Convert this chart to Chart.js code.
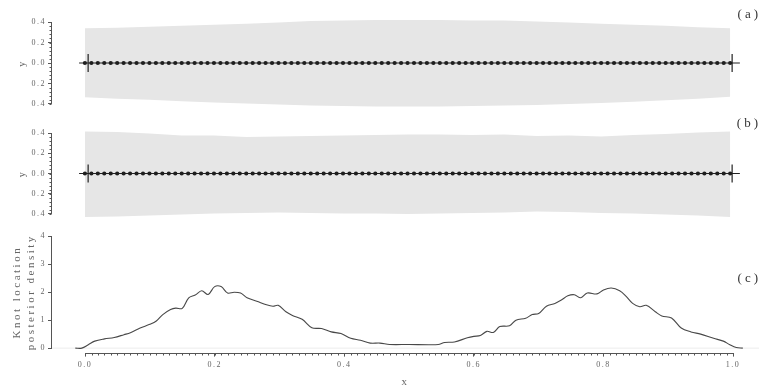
<!DOCTYPE html>
<html>
<head>
<meta charset="utf-8">
<script src="https://cdn.jsdelivr.net/npm/chart.js@4.4.1/dist/chart.umd.min.js"></script>
<style>
  html, body { margin: 0; padding: 0; background: #fff; }
  #wrap { position: relative; width: 760px; height: 392px; }
  canvas { position: absolute; left: 0; }
</style>
</head>
<body>
<div id="wrap">
  <canvas id="pa" width="760" height="120" style="top:0px"></canvas>
  <canvas id="pb" width="760" height="115" style="top:110px"></canvas>
  <canvas id="pc" width="760" height="167" style="top:225px"></canvas>
</div>
<script>
// ── data ──
const panelLabels = ['(a)', '(b)', '(c)'];

// band (credible interval) sampled along x
const bandX      = [0, 0.05, 0.1, 0.15, 0.2, 0.25, 0.3, 0.35, 0.4, 0.45, 0.5, 0.55, 0.6, 0.65, 0.7, 0.75, 0.8, 0.85, 0.9, 0.95, 1.0];
const bandAUpper = [0.34, 0.345, 0.355, 0.365, 0.375, 0.385, 0.395, 0.41, 0.415, 0.42, 0.42, 0.42, 0.415, 0.415, 0.405, 0.395, 0.385, 0.375, 0.365, 0.35, 0.34];
const bandALower = [-0.335, -0.35, -0.36, -0.375, -0.385, -0.395, -0.405, -0.415, -0.42, -0.425, -0.425, -0.425, -0.42, -0.415, -0.41, -0.40, -0.39, -0.38, -0.365, -0.35, -0.33];
const bandBUpper = [0.415, 0.41, 0.395, 0.375, 0.375, 0.36, 0.365, 0.37, 0.375, 0.38, 0.385, 0.385, 0.38, 0.385, 0.37, 0.375, 0.365, 0.38, 0.39, 0.405, 0.415];
const bandBLower = [-0.43, -0.425, -0.415, -0.405, -0.395, -0.39, -0.385, -0.39, -0.395, -0.395, -0.4, -0.395, -0.39, -0.385, -0.375, -0.38, -0.39, -0.395, -0.405, -0.415, -0.43];

// observed points (all at y = 0)
const dotX = [
  0.00, 0.01, 0.02, 0.03, 0.04, 0.05, 0.06, 0.07, 0.08, 0.09,
  0.10, 0.11, 0.12, 0.13, 0.14, 0.15, 0.16, 0.17, 0.18, 0.19,
  0.20, 0.21, 0.22, 0.23, 0.24, 0.25, 0.26, 0.27, 0.28, 0.29,
  0.30, 0.31, 0.32, 0.33, 0.34, 0.35, 0.36, 0.37, 0.38, 0.39,
  0.40, 0.41, 0.42, 0.43, 0.44, 0.45, 0.46, 0.47, 0.48, 0.49,
  0.50, 0.51, 0.52, 0.53, 0.54, 0.55, 0.56, 0.57, 0.58, 0.59,
  0.60, 0.61, 0.62, 0.63, 0.64, 0.65, 0.66, 0.67, 0.68, 0.69,
  0.70, 0.71, 0.72, 0.73, 0.74, 0.75, 0.76, 0.77, 0.78, 0.79,
  0.80, 0.81, 0.82, 0.83, 0.84, 0.85, 0.86, 0.87, 0.88, 0.89,
  0.90, 0.91, 0.92, 0.93, 0.94, 0.95, 0.96, 0.97, 0.98, 0.99, 1.00
];
const dotY = 0;
const meanLineX = [-0.009, 1.015];
const whiskerX = [0.005, 1.003];
const whiskerHalf = 0.088;

// knot location posterior density
const densX = [-0.015, -0.005, 0.005, 0.015, 0.03, 0.045, 0.06, 0.07, 0.085, 0.1, 0.11, 0.12, 0.132, 0.14, 0.15, 0.16, 0.17, 0.18, 0.19, 0.2,
  0.21, 0.22, 0.23, 0.24, 0.25, 0.265, 0.28, 0.29, 0.298, 0.31, 0.32, 0.335, 0.35, 0.365, 0.38, 0.395, 0.41, 0.425, 0.44, 0.455,
  0.47, 0.5, 0.53, 0.545, 0.555, 0.57, 0.59, 0.6, 0.61, 0.62, 0.63, 0.64, 0.655, 0.665, 0.68, 0.69, 0.7, 0.712, 0.725, 0.735,
  0.745, 0.755, 0.765, 0.775, 0.79, 0.8, 0.812, 0.825, 0.835, 0.845, 0.856, 0.866, 0.88, 0.89, 0.905, 0.92, 0.935, 0.95, 0.97, 0.985,
  0.995, 1.005, 1.015];
const densY = [0, 0, 0.12, 0.25, 0.33, 0.38, 0.48, 0.55, 0.72, 0.85, 0.97, 1.2, 1.38, 1.43, 1.42, 1.8, 1.9, 2.05, 1.92, 2.2,
  2.2, 1.97, 2.0, 1.97, 1.8, 1.68, 1.55, 1.5, 1.53, 1.3, 1.17, 1.03, 0.73, 0.7, 0.58, 0.52, 0.35, 0.28, 0.18, 0.18,
  0.13, 0.13, 0.12, 0.13, 0.2, 0.22, 0.37, 0.42, 0.45, 0.6, 0.56, 0.77, 0.8, 1.0, 1.07, 1.2, 1.24, 1.5, 1.6, 1.72,
  1.87, 1.91, 1.8, 1.97, 1.94, 2.08, 2.15, 2.05, 1.85, 1.6, 1.48, 1.53, 1.3, 1.15, 1.08, 0.72, 0.58, 0.5, 0.35, 0.25,
  0.12, 0.02, 0];

// ticks
const xTicks = [0, 0.2, 0.4, 0.6, 0.8, 1.0];
const xTickLabels = ['0.0', '0.2', '0.4', '0.6', '0.8', '1.0'];
const yTicksAB = [-0.4, -0.2, 0, 0.2, 0.4];
const yTickLabelsAB = ['0.4', '0.2', '0.0', '0.2', '0.4'];
const yTicksC = [0, 1, 2, 3, 4];
const yTickLabelsC = ['0', '1', '2', '3', '4'];

const SERIF = "'Liberation Serif', 'DejaVu Serif', serif";
const AXIS_COL = '#555';
const TEXT_COL = '#666';
const X_MIN = -0.051, X_MAX = 1.04;

Chart.defaults.font.family = SERIF;
Chart.defaults.color = TEXT_COL;

// R-style axes: line only between first and last tick, with minor ticks.
// Titles are drawn before datasets (wide spacing), tick labels after (z = 1).
const rAxes = {
  id: 'rAxes',
  beforeDraw(chart) {
    chart.ctx.letterSpacing = '2.5px';
  },
  beforeDatasetsDraw(chart) {
    chart.ctx.letterSpacing = '1.5px';
  },
  afterDraw(chart, args, opts) {
    const ctx = chart.ctx;
    const area = chart.chartArea;
    ctx.save();
    ctx.strokeStyle = AXIS_COL;
    ctx.lineWidth = 1;
    ctx.beginPath();
    const ys = chart.scales.y;
    const lx = Math.round(area.left) - 0.5;
    const y0 = ys.getPixelForValue(ys.ticks[0].value);
    const y1 = ys.getPixelForValue(ys.ticks[ys.ticks.length - 1].value);
    ctx.moveTo(lx, y0); ctx.lineTo(lx, y1);
    if (opts.yMinor) {
      const first = ys.ticks[0].value, last = ys.ticks[ys.ticks.length - 1].value;
      for (let v = first; v <= last + 1e-9; v += opts.yMinor) {
        const py = Math.round(ys.getPixelForValue(v)) + 0.5;
        ctx.moveTo(lx, py); ctx.lineTo(lx - 2, py);
      }
    }
    const xs = chart.scales.x;
    if (xs.options.display) {
      const by = Math.round(area.bottom) + 0.5;
      const x0 = xs.getPixelForValue(xs.ticks[0].value);
      const x1 = xs.getPixelForValue(xs.ticks[xs.ticks.length - 1].value);
      ctx.moveTo(x0, by); ctx.lineTo(x1, by);
      for (let v = 0; v <= 1.0001; v += 0.01) {
        const px = Math.round(xs.getPixelForValue(v)) + 0.5;
        ctx.moveTo(px, by); ctx.lineTo(px, by + 2);
      }
    }
    ctx.stroke();
    // panel label
    ctx.fillStyle = '#333';
    ctx.font = '13px ' + SERIF;
    ctx.letterSpacing = '3px';
    ctx.textAlign = 'right';
    ctx.textBaseline = 'middle';
    ctx.fillText(opts.label, chart.width + 1, opts.labelY);
    ctx.restore();
  }
};

function yAxis(ticks, labels, title, titleFont, titlePad, min, max) {
  return {
    type: 'linear', min, max,
    afterFit: s => { s.width = 52; },
    afterBuildTicks: s => { s.ticks = ticks.map(v => ({ value: v })); },
    border: { display: false },
    grid: { drawOnChartArea: false, drawTicks: true, tickLength: 4, color: AXIS_COL },
    ticks: {
      z: 1,
      padding: 2,
      color: TEXT_COL,
      font: { size: 8, family: SERIF },
      callback: (v, i) => labels[i]
    },
    title: { display: true, text: title, color: TEXT_COL, font: titleFont, padding: { top: titlePad, bottom: 0 } }
  };
}

function makeBandPanel(canvasId, upper, lower, label, padTop, padBottom, labelY) {
  const canvas = document.getElementById(canvasId);
  return new Chart(canvas, {
    type: 'scatter',
    data: {
      datasets: [
        {
          data: bandX.map((x, i) => ({ x, y: upper[i] })),
          showLine: true, pointRadius: 0, borderWidth: 0,
          backgroundColor: '#e6e6e6', fill: '+1', order: 10
        },
        {
          data: bandX.map((x, i) => ({ x, y: lower[i] })),
          showLine: true, pointRadius: 0, borderWidth: 0, order: 11
        },
        {
          data: meanLineX.map(x => ({ x, y: dotY })),
          showLine: true, pointRadius: 0, borderColor: '#222', borderWidth: 1, order: 5
        },
        {
          data: [{ x: whiskerX[0], y: -whiskerHalf }, { x: whiskerX[0], y: whiskerHalf }],
          showLine: true, pointRadius: 0, borderColor: '#222', borderWidth: 1.2, order: 4
        },
        {
          data: [{ x: whiskerX[1], y: -whiskerHalf }, { x: whiskerX[1], y: whiskerHalf }],
          showLine: true, pointRadius: 0, borderColor: '#222', borderWidth: 1.2, order: 4
        },
        {
          data: dotX.map(x => ({ x, y: dotY })),
          showLine: false, pointRadius: 2.1, borderWidth: 0,
          backgroundColor: '#1e1e1e', order: 1
        }
      ]
    },
    options: {
      responsive: false,
      devicePixelRatio: 1,
      animation: false,
      layout: { padding: { top: padTop, bottom: padBottom, left: 0, right: 1 } },
      plugins: {
        legend: { display: false },
        tooltip: { enabled: false },
        rAxes: { label, labelY, yMinor: 0.04 }
      },
      scales: {
        x: { type: 'linear', min: X_MIN, max: X_MAX, display: false },
        y: yAxis(yTicksAB, yTickLabelsAB, 'y', { size: 10, family: SERIF }, 16, -0.44, 0.44)
      }
    },
    plugins: [rAxes]
  });
}

// panel (a): canvas 0..120, plot 18..108
makeBandPanel('pa', bandAUpper, bandALower, panelLabels[0], 18, 12, 15);
// panel (b): canvas 110..225, plot 129..218
makeBandPanel('pb', bandBUpper, bandBLower, panelLabels[1], 19, 7, 14);

// Panel (c): knot location density
new Chart(document.getElementById('pc'), {
  type: 'scatter',
  data: {
    datasets: [
      {
        data: [{ x: X_MIN, y: 0 }, { x: X_MAX, y: 0 }],
        showLine: true, pointRadius: 0, borderColor: '#ececec', borderWidth: 1, order: 5
      },
      {
        data: densX.map((x, i) => ({ x, y: densY[i] })),
        showLine: true, pointRadius: 0, borderColor: '#484848', borderWidth: 1.1,
        tension: 0.35, fill: false, order: 1
      }
    ]
  },
  options: {
    responsive: false,
    devicePixelRatio: 1,
    animation: false,
    layout: { padding: { top: 4.4, bottom: 0, left: 0, right: 1 } },
    plugins: {
      legend: { display: false },
      tooltip: { enabled: false },
      rAxes: { label: panelLabels[2], labelY: 54 }
    },
    scales: {
      x: {
        type: 'linear', min: X_MIN, max: X_MAX,
        afterFit: s => { s.height = 39.4; },
        afterBuildTicks: s => { s.ticks = xTicks.map(v => ({ value: v })); },
        border: { display: false },
        grid: { drawOnChartArea: false, drawTicks: true, tickLength: 4, color: AXIS_COL },
        ticks: {
          z: 1,
          padding: 4, maxRotation: 0, autoSkip: false,
          color: TEXT_COL,
          font: { size: 8, family: SERIF },
          callback: (v, i) => xTickLabels[i]
        },
        title: { display: true, text: 'x', color: TEXT_COL, font: { size: 11, family: SERIF }, padding: { top: 4, bottom: 3 } }
      },
      y: yAxis(yTicksC, yTickLabelsC, ['Knot location', 'posterior density'],
        { size: 11, family: SERIF, lineHeight: 1.3 }, 10, -0.16, 4.16)
    }
  },
  plugins: [rAxes]
});
</script>
</body>
</html>
